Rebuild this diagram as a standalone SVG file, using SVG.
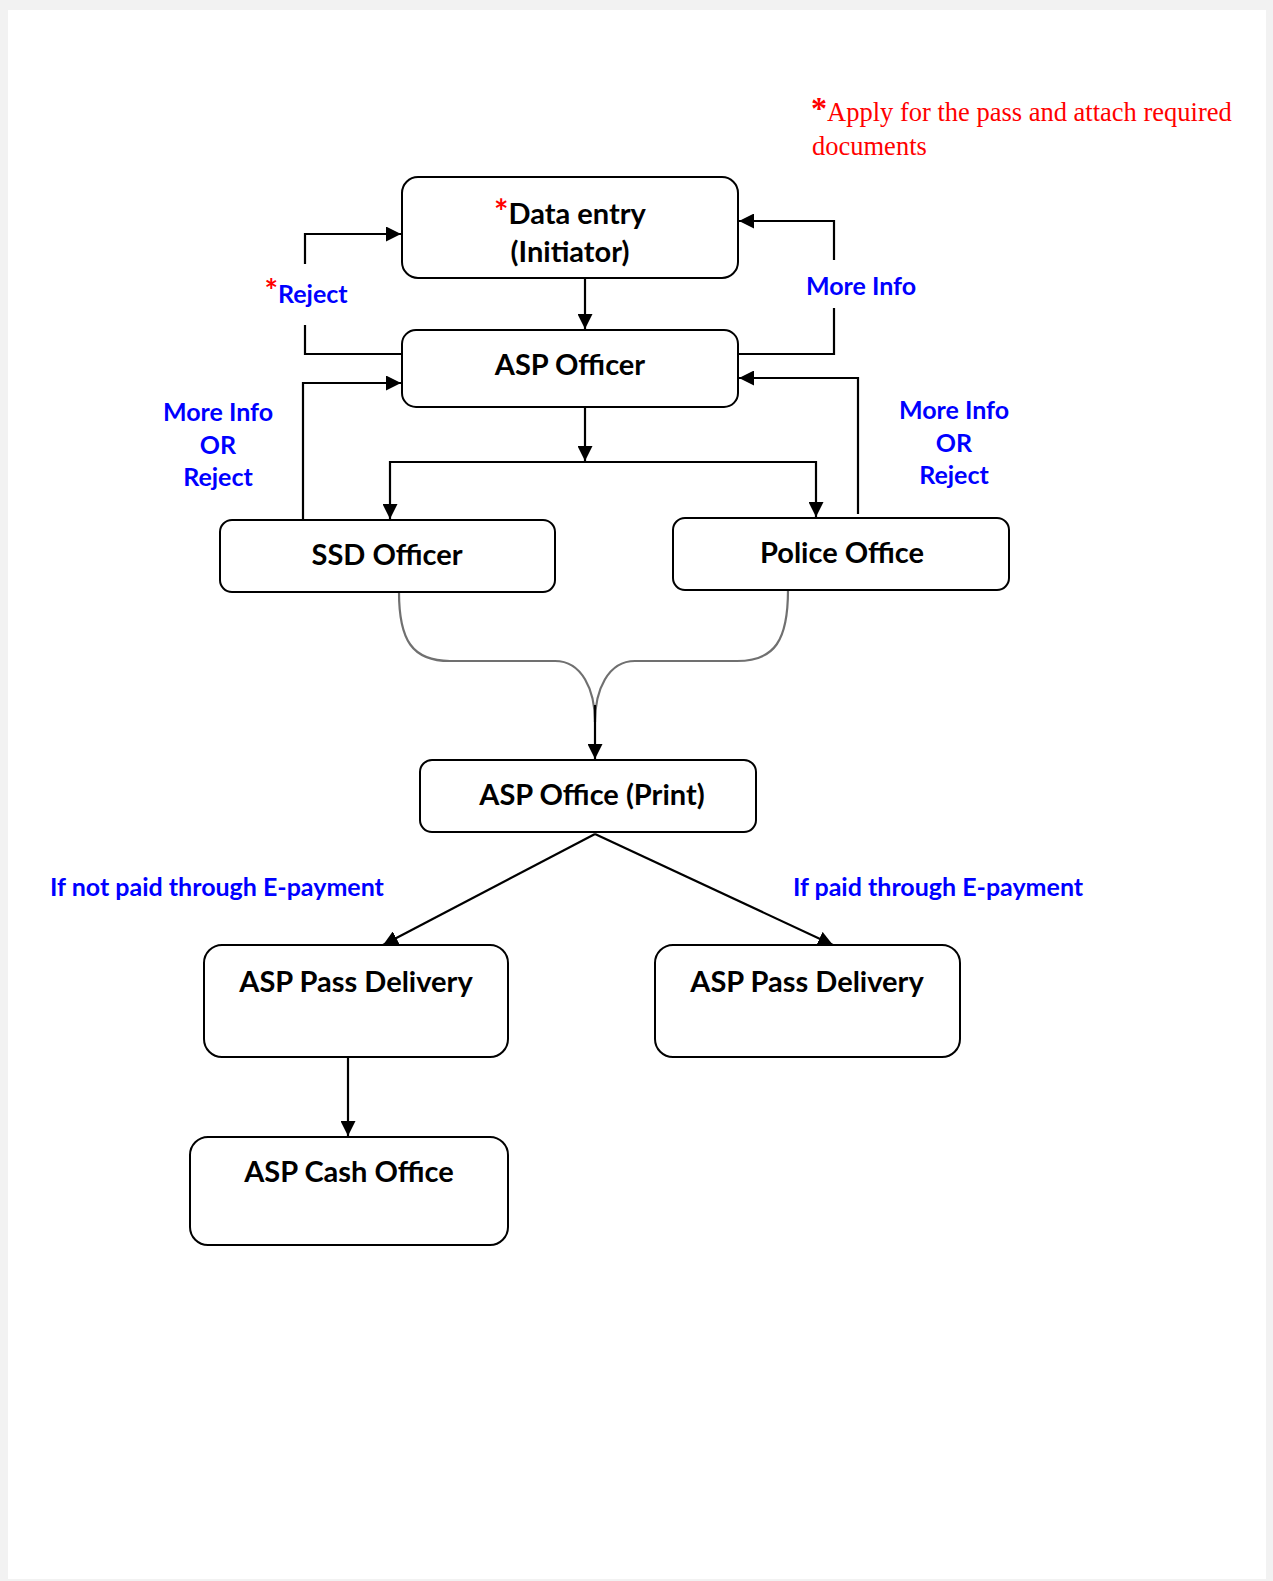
<svg xmlns="http://www.w3.org/2000/svg" width="1273" height="1581" viewBox="0 0 1273 1581">
<style>
.box{fill:#fff;stroke:#000;stroke-width:2}
.lbl{font-family:Lato,"Liberation Sans",sans-serif;font-weight:bold;font-size:29px;fill:#000;text-anchor:middle}
.blue{font-family:Lato,"Liberation Sans",sans-serif;font-weight:bold;font-size:25px;fill:#0000ff;text-anchor:middle}
.ln{fill:none;stroke:#000;stroke-width:2.2}
.brace{fill:none;stroke:#707070;stroke-width:2.2}
.red{fill:#ff0000}
.note{font-family:"Liberation Serif",serif;font-size:26.5px;fill:#ff0000}
</style>
<defs>
<marker id="ah" viewBox="0 0 15 15" refX="15" refY="7.5" markerWidth="15" markerHeight="15" markerUnits="userSpaceOnUse" orient="auto">
<path d="M0,0 L15,7.5 L0,15 Z" fill="#000"/>
</marker>
</defs>
<rect x="0" y="0" width="1273" height="1581" fill="#f2f2f2"/>
<rect x="8" y="10" width="1258" height="1569" fill="#fff"/>

<g id="note">
<text class="note" x="811" y="121"><tspan font-weight="bold" font-size="32px" dy="-2">*</tspan><tspan dy="2">Apply for the pass and attach required</tspan></text>
<text class="note" x="812" y="155">documents</text>
</g>

<g id="connectors">
<line class="ln" x1="585" y1="278" x2="585" y2="329" marker-end="url(#ah)"/>
<polyline class="ln" points="402,354 305,354 305,325"/>
<polyline class="ln" points="305,264 305,234 401,234" marker-end="url(#ah)"/>
<polyline class="ln" points="738,354 834,354 834,308"/>
<polyline class="ln" points="834,260 834,221 739,221" marker-end="url(#ah)"/>
<line class="ln" x1="585" y1="407" x2="585" y2="461" marker-end="url(#ah)"/>
<line class="ln" x1="389" y1="462" x2="817" y2="462"/>
<line class="ln" x1="390" y1="461" x2="390" y2="519" marker-end="url(#ah)"/>
<line class="ln" x1="816" y1="461" x2="816" y2="517" marker-end="url(#ah)"/>
<polyline class="ln" points="303,520 303,383 401,383" marker-end="url(#ah)"/>
<polyline class="ln" points="858,514 858,378 739,378" marker-end="url(#ah)"/>
<path class="brace" d="M399,592 C399,640 412,661 450,661 L555,661 C582,661 595,690 595,722"/>
<path class="brace" d="M788,590 C788,640 775,661 737,661 L635,661 C608,661 595,690 595,722"/>
<line class="ln" x1="595" y1="705" x2="595" y2="759" marker-end="url(#ah)"/>
<line class="ln" x1="595" y1="834" x2="383" y2="945" marker-end="url(#ah)"/>
<line class="ln" x1="595" y1="834" x2="833" y2="945" marker-end="url(#ah)"/>
<line class="ln" x1="348" y1="1057" x2="348" y2="1136" marker-end="url(#ah)"/>
</g>

<g id="labels">
<text class="blue" x="306" y="303"><tspan class="red" font-size="32px">*</tspan>Reject</text>
<text class="blue" x="861" y="295">More Info</text>
<text class="blue" x="218" y="421">More Info</text>
<text class="blue" x="218" y="454">OR</text>
<text class="blue" x="218" y="486">Reject</text>
<text class="blue" x="954" y="419">More Info</text>
<text class="blue" x="954" y="452">OR</text>
<text class="blue" x="954" y="484">Reject</text>
<text class="blue" x="217" y="896">If not paid through E-payment</text>
<text class="blue" x="938" y="896">If paid through E-payment</text>
</g>

<g id="data-entry">
<rect class="box" x="402" y="177" width="336" height="101" rx="16"/>
<text class="lbl" x="570" y="224"><tspan class="red" font-size="34px">*</tspan>Data entry</text>
<text class="lbl" x="570" y="262">(Initiator)</text>
</g>
<g id="asp-officer">
<rect class="box" x="402" y="330" width="336" height="77" rx="14"/>
<text class="lbl" x="570" y="375">ASP Officer</text>
</g>
<g id="ssd-officer">
<rect class="box" x="220" y="520" width="335" height="72" rx="12"/>
<text class="lbl" x="387" y="565">SSD Officer</text>
</g>
<g id="police-office">
<rect class="box" x="673" y="518" width="336" height="72" rx="12"/>
<text class="lbl" x="842" y="563">Police Office</text>
</g>
<g id="asp-print">
<rect class="box" x="420" y="760" width="336" height="72" rx="12"/>
<text class="lbl" x="592" y="805">ASP Office (Print)</text>
</g>
<g id="pass-delivery-1">
<rect class="box" x="204" y="945" width="304" height="112" rx="18"/>
<text class="lbl" x="356" y="992">ASP Pass Delivery</text>
</g>
<g id="pass-delivery-2">
<rect class="box" x="655" y="945" width="305" height="112" rx="18"/>
<text class="lbl" x="807" y="992">ASP Pass Delivery</text>
</g>
<g id="cash-office">
<rect class="box" x="190" y="1137" width="318" height="108" rx="18"/>
<text class="lbl" x="349" y="1182">ASP Cash Office</text>
</g>
</svg>
